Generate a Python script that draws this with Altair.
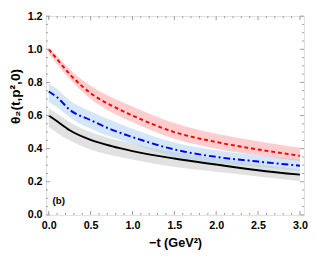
import altair as alt
import pandas as pd

# -t values (GeV^2) at which the curves were read
t = [0.0, 0.1, 0.25, 0.5, 0.75, 1.0, 1.5, 2.0, 2.5, 3.0]
red_mid = [1.00, 0.94, 0.85, 0.735, 0.66, 0.60, 0.50, 0.44, 0.395, 0.357]
red_hi = [1.01, 0.96, 0.88, 0.78, 0.71, 0.655, 0.555, 0.49, 0.445, 0.405]
red_lo = [0.975, 0.91, 0.82, 0.70, 0.62, 0.56, 0.46, 0.40, 0.36, 0.325]
blue_mid = [0.745, 0.71, 0.635, 0.572, 0.515, 0.47, 0.395, 0.35, 0.322, 0.297]
blue_hi = [0.79, 0.76, 0.69, 0.625, 0.57, 0.52, 0.437, 0.39, 0.36, 0.335]
blue_lo = [0.68, 0.65, 0.59, 0.52, 0.47, 0.43, 0.352, 0.315, 0.29, 0.265]
black_mid = [0.60, 0.565, 0.511, 0.453, 0.415, 0.385, 0.34, 0.304, 0.27, 0.243]
gray_hi = [0.645, 0.61, 0.56, 0.50, 0.46, 0.43, 0.38, 0.34, 0.305, 0.275]
gray_lo = [0.53, 0.495, 0.45, 0.395, 0.36, 0.335, 0.29, 0.26, 0.232, 0.205]

x_major = [0.0, 0.5, 1.0, 1.5, 2.0, 2.5, 3.0]
x_minor = [round(i * 0.1, 2) for i in range(0, 31) if i % 5 != 0]
y_major = [0.0, 0.2, 0.4, 0.6, 0.8, 1.0, 1.2]
y_minor = [round(i * 0.05, 2) for i in range(0, 25) if i % 4 != 0]

W, H = 265, 204
XDOM = [-0.033, 3.05]
YDOM = [0.0, 1.2]

df = pd.DataFrame({
    "t": t,
    "red": red_mid, "red_hi": red_hi, "red_lo": red_lo,
    "blue": blue_mid, "blue_hi": blue_hi, "blue_lo": blue_lo,
    "black": black_mid, "gray_hi": gray_hi, "gray_lo": gray_lo,
})

xs = alt.Scale(domain=XDOM, nice=False, zero=False)
ys = alt.Scale(domain=YDOM, nice=False, zero=False)

FONT = "Liberation Sans"

xaxis = alt.Axis(values=x_major, format=".1f", ticks=False, domain=False, grid=False,
                 labelFont=FONT, labelFontWeight="bold", labelFontSize=11,
                 labelPadding=5, labelColor="black",
                 title="\u2212t (GeV\u00b2)", titleFont=FONT, titleFontWeight="bold",
                 titleFontSize=13, titleColor="black", titleX=W / 2, titleY=28,
                 titleBaseline="middle")
yaxis = alt.Axis(values=y_major, format=".1f", ticks=False, domain=False, grid=False,
                 labelFont=FONT, labelFontWeight="bold", labelFontSize=11,
                 labelPadding=4, labelColor="black",
                 title="\u03b8\u2082(t,p\u00b2,0)", titleFont=FONT, titleFontWeight="bold",
                 titleFontSize=14, titleColor="black", titleX=-31, titleY=82,
                 titleAngle=270, titleAlign="center", titleBaseline="middle")

base = alt.Chart(df)

def band(lo, hi, color):
    return base.mark_area(color=color, opacity=0.5, interpolate="monotone").encode(
        x=alt.X("t:Q", scale=xs, axis=xaxis),
        y=alt.Y(f"{lo}:Q", scale=ys, axis=yaxis),
        y2=f"{hi}:Q",
    )

def line(col, color, dash):
    kw = dict(color=color, strokeWidth=2, interpolate="monotone")
    if dash:
        kw["strokeDash"] = dash
    return base.mark_line(**kw).encode(
        x=alt.X("t:Q", scale=xs, axis=xaxis),
        y=alt.Y(f"{col}:Q", scale=ys, axis=yaxis),
    )

gray_band = band("gray_lo", "gray_hi", "#c4c4c4")
blue_band = band("blue_lo", "blue_hi", "#a9cdf4")
red_band = band("red_lo", "red_hi", "#ff9c9c")
black_line = line("black", "black", None)
blue_line = line("blue", "#0000ff", [7, 3, 2, 3])
red_line = line("red", "#ff0000", [4, 3])

TC = "#999999"

def xticks(vals, length):
    d = alt.Chart(pd.DataFrame({"v": vals}))
    bottom = d.mark_rule(color=TC, strokeWidth=1).encode(
        x=alt.X("v:Q", scale=xs, axis=xaxis), y=alt.value(H), y2=alt.value(H - length))
    top = d.mark_rule(color=TC, strokeWidth=1).encode(
        x=alt.X("v:Q", scale=xs, axis=xaxis), y=alt.value(0), y2=alt.value(length))
    return bottom + top

def yticks(vals, length):
    d = alt.Chart(pd.DataFrame({"v": vals}))
    left = d.mark_rule(color=TC, strokeWidth=1).encode(
        y=alt.Y("v:Q", scale=ys, axis=yaxis), x=alt.value(0), x2=alt.value(length))
    right = d.mark_rule(color=TC, strokeWidth=1).encode(
        y=alt.Y("v:Q", scale=ys, axis=yaxis), x=alt.value(W), x2=alt.value(W - length))
    return left + right

label_df = pd.DataFrame({"t": [0.12], "y": [0.085], "txt": ["(b)"]})
label = alt.Chart(label_df).mark_text(font=FONT, fontWeight="bold", fontSize=10,
                                      color="black", align="center", baseline="middle").encode(
    x=alt.X("t:Q", scale=xs, axis=xaxis), y=alt.Y("y:Q", scale=ys, axis=yaxis), text="txt:N")

chart = alt.layer(
    gray_band, blue_band, red_band, black_line, blue_line, red_line,
    xticks(x_major, 4), xticks(x_minor, 2), yticks(y_major, 4), yticks(y_minor, 2),
    label,
).properties(
    width=W, height=H,
    autosize=alt.AutoSizeParams(type="none"),
    padding={"left": 39, "top": 5, "right": 4, "bottom": 45},
).configure_view(stroke=TC, strokeWidth=1).configure(background="white")

chart.save("out.html", embed_options={"renderer": "svg", "actions": False})
